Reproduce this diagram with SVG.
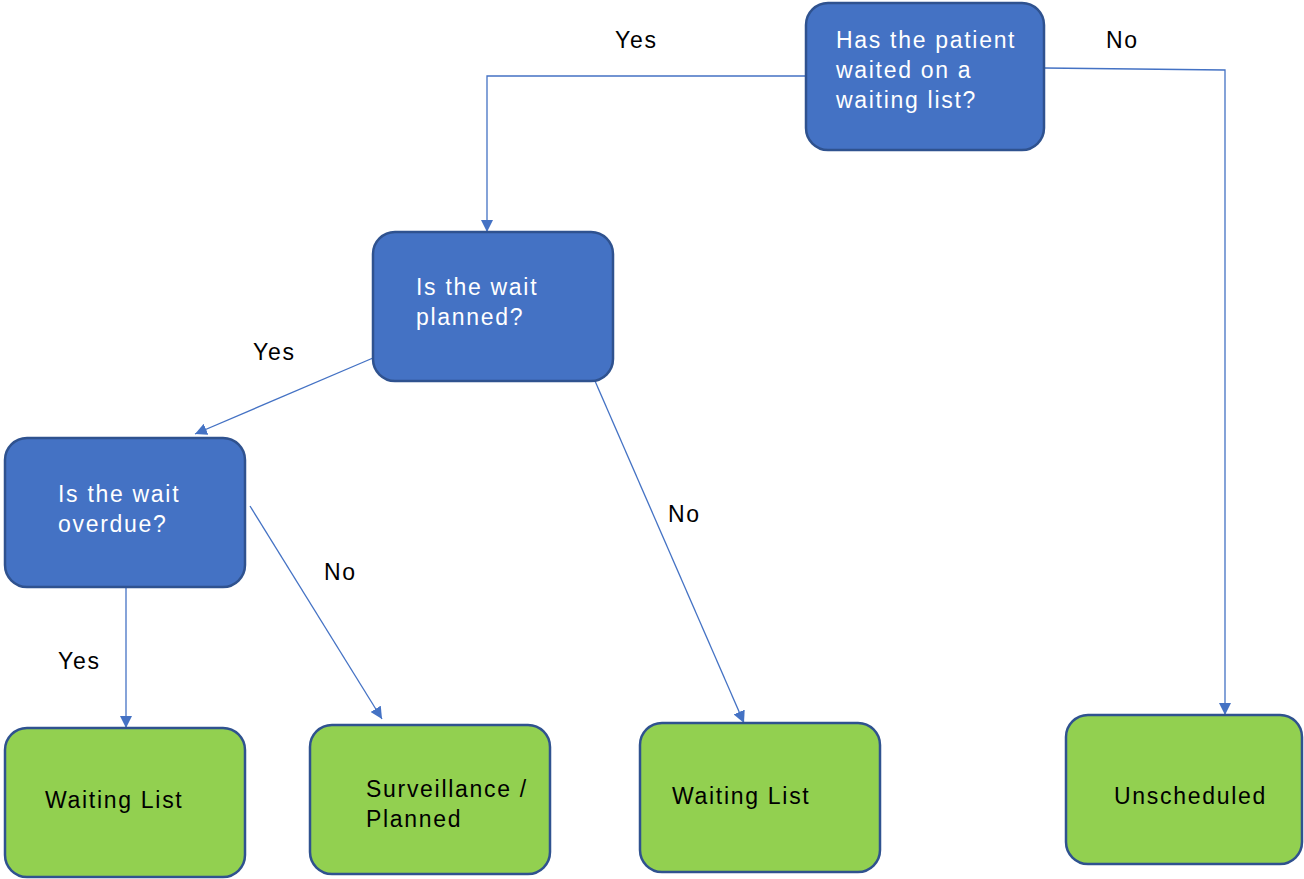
<svg xmlns="http://www.w3.org/2000/svg" width="1304" height="879" viewBox="0 0 1304 879">
<style>
.q{fill:#4472C4;stroke:#2F528F;stroke-width:2.5}
.g{fill:#92D050;stroke:#2F528F;stroke-width:2.5}
.t{font-family:"Liberation Sans",Arial,sans-serif;font-size:23px;letter-spacing:1.7px}
.w{fill:#FFFFFF}
.k{fill:#000000}
.c{fill:none;stroke:#4472C4;stroke-width:1.3}
</style>
<defs>
<marker id="ah" markerUnits="userSpaceOnUse" markerWidth="12" markerHeight="12" viewBox="0 0 12 12" refX="12" refY="6" orient="auto">
<path d="M0,0 L12,6 L0,12 Z" fill="#4472C4"/>
</marker>
</defs>
<rect width="1304" height="879" fill="#FFFFFF"/>
<g id="connectors">
<polyline class="c" points="806,76 487,76 487,232" marker-end="url(#ah)"/>
<polyline class="c" points="1044,68 1225,70 1225,715" marker-end="url(#ah)"/>
<line class="c" x1="373" y1="358" x2="195" y2="434" marker-end="url(#ah)"/>
<line class="c" x1="595" y1="381" x2="744" y2="723" marker-end="url(#ah)"/>
<line class="c" x1="250" y1="506" x2="382" y2="719" marker-end="url(#ah)"/>
<line class="c" x1="126" y1="588" x2="126" y2="728" marker-end="url(#ah)"/>
<text class="t k" x="615" y="48">Yes</text>
<text class="t k" x="1106" y="48">No</text>
<text class="t k" x="253" y="360">Yes</text>
<text class="t k" x="668" y="522">No</text>
<text class="t k" x="324" y="580">No</text>
<text class="t k" x="58" y="669">Yes</text>
</g>
<g id="n1">
<rect class="q" x="806" y="3" width="238" height="147" rx="22"/>
<text class="t w" x="836" y="48">Has the patient</text>
<text class="t w" x="836" y="78">waited on a</text>
<text class="t w" x="836" y="108">waiting list?</text>
</g>
<g id="n2">
<rect class="q" x="373" y="232" width="240" height="149" rx="22"/>
<text class="t w" x="416" y="295">Is the wait</text>
<text class="t w" x="416" y="325">planned?</text>
</g>
<g id="n3">
<rect class="q" x="5" y="438" width="240" height="149" rx="22"/>
<text class="t w" x="58" y="502">Is the wait</text>
<text class="t w" x="58" y="532">overdue?</text>
</g>
<g id="o1">
<rect class="g" x="5" y="728" width="240" height="149" rx="22"/>
<text class="t k" x="45" y="808">Waiting List</text>
</g>
<g id="o2">
<rect class="g" x="310" y="725" width="240" height="149" rx="22"/>
<text class="t k" x="366" y="797">Surveillance /</text>
<text class="t k" x="366" y="827">Planned</text>
</g>
<g id="o3">
<rect class="g" x="640" y="723" width="240" height="149" rx="22"/>
<text class="t k" x="672" y="804">Waiting List</text>
</g>
<g id="o4">
<rect class="g" x="1066" y="715" width="236" height="149" rx="22"/>
<text class="t k" x="1114" y="804">Unscheduled</text>
</g>
</svg>
